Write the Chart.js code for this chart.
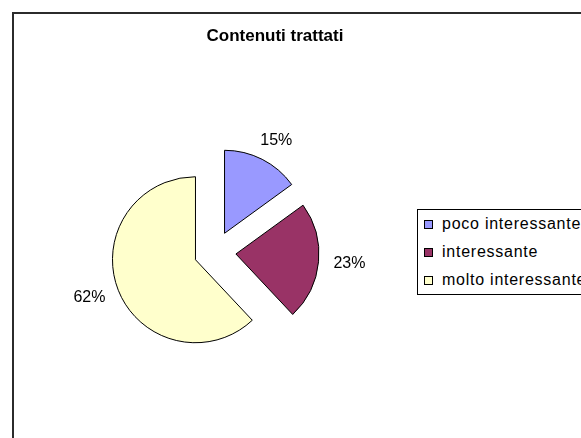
<!DOCTYPE html>
<html>
<head>
<meta charset="utf-8">
<script src="https://cdn.jsdelivr.net/npm/chart.js@4/dist/chart.umd.min.js"></script>
<style>
  html, body { margin: 0; padding: 0; background: #fff; }
  body { width: 581px; height: 438px; overflow: hidden; position: relative;
         font-family: "Liberation Sans", Arial, sans-serif; }
  #frame { position: absolute; left: 12px; top: 12px; width: 700px; height: 700px;
           border: 2px solid #2b2b2b; box-sizing: border-box; }
  #title { position: absolute; left: 12px; width: 526px; top: 26px; line-height: 20px;
           text-align: center; font-weight: bold; font-size: 17px; color: #000; }
  #pie { position: absolute; left: 0; top: 0; }
  #legend { position: absolute; left: 417px; top: 209px; width: 300px; height: 86px;
            border: 1px solid #000; box-sizing: border-box; background: #fff; }
  .item { height: 28px; line-height: 28px; white-space: nowrap; font-size: 16px;
          letter-spacing: 0.75px; color: #000; display: flex; align-items: center; }
  .box { width: 9px; height: 9px; box-sizing: border-box; border: 1px solid #000;
         margin-left: 6px; margin-right: 9px; flex: none; }
</style>
</head>
<body>
<div id="frame"></div>
<canvas id="pie" width="581" height="438"></canvas>
<div id="title">Contenuti trattati</div>
<div id="legend"></div>
<script>
var categories = ['poco interessante', 'interessante', 'molto interessante'];
var values = [15, 23, 62];
var colors = ['#9999FF', '#993366', '#FFFFCC'];

var EXPLODE = 21;   // how far each slice is pulled out, px
var LABEL_GAP = 15;

var total = values.reduce(function(a, b) { return a + b; }, 0);

// legend (html, sits over the right edge like the original)
var legend = document.getElementById('legend');
categories.forEach(function(name, i) {
  var row = document.createElement('div');
  row.className = 'item';
  var sw = document.createElement('span');
  sw.className = 'box';
  sw.style.background = colors[i];
  row.appendChild(sw);
  row.appendChild(document.createTextNode(name));
  legend.appendChild(row);
});

// pie whose slices are all pulled out by the same distance, same size
class ExplodedPieController extends Chart.PieController {
  draw() {
    var ctx = this.chart.ctx;
    this._cachedMeta.data.forEach(function(arc) {
      var mid = (arc.startAngle + arc.endAngle) / 2;
      ctx.save();
      ctx.translate(Math.cos(mid) * EXPLODE, Math.sin(mid) * EXPLODE);
      arc.draw(ctx);
      ctx.restore();
    });
  }
}
ExplodedPieController.id = 'explodedPie';
Chart.register(ExplodedPieController);

var pctLabels = {
  id: 'pctLabels',
  afterDatasetsDraw: function(chart) {
    var ctx = chart.ctx;
    var meta = chart.getDatasetMeta(0);
    ctx.save();
    ctx.font = '16px "Liberation Sans", Arial, sans-serif';
    ctx.fillStyle = '#000';
    ctx.textAlign = 'center';
    ctx.textBaseline = 'middle';
    meta.data.forEach(function(arc, i) {
      var p = arc.getProps(['x', 'y', 'startAngle', 'endAngle', 'outerRadius'], true);
      var mid = (p.startAngle + p.endAngle) / 2;
      var dx = Math.cos(mid), dy = Math.sin(mid);
      var text = Math.round(values[i] / total * 100) + '%';
      var w = ctx.measureText(text).width, h = 12;
      var d = p.outerRadius + EXPLODE + LABEL_GAP;
      ctx.fillText(text, p.x + dx * d + dx * w / 2, p.y + dy * d + dy * h / 2);
    });
    ctx.restore();
  }
};

new Chart(document.getElementById('pie'), {
  type: 'explodedPie',
  data: {
    labels: categories,
    datasets: [{
      data: values,
      backgroundColor: colors,
      borderColor: '#000',
      borderWidth: 1,
      borderJoinStyle: 'miter'
    }]
  },
  options: {
    responsive: false,
    animation: false,
    events: [],
    radius: 83,
    layout: { padding: { left: 0, right: 151, top: 66, bottom: 0 } },
    plugins: {
      legend: { display: false },
      title: { display: false },
      tooltip: { enabled: false }
    }
  },
  plugins: [pctLabels]
});
</script>
</body>
</html>
